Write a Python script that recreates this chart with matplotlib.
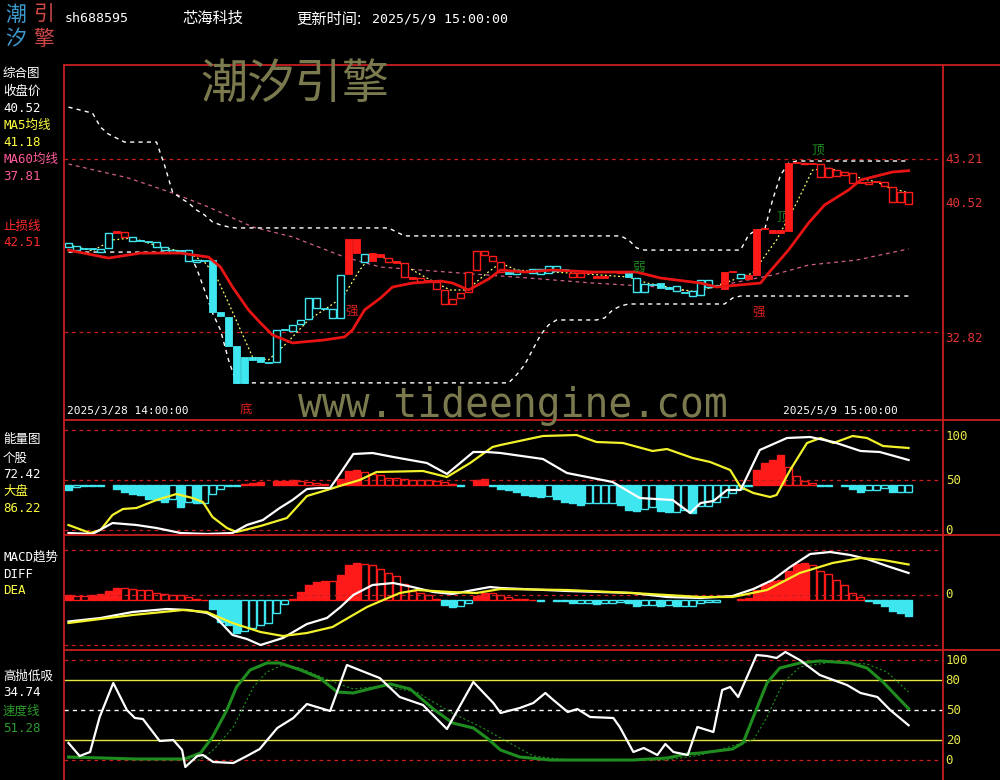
import numpy as np
import matplotlib
matplotlib.use('Agg')
import matplotlib.pyplot as plt
from matplotlib.lines import Line2D

plt.rcParams['font.family'] = ['DejaVu Sans Mono', 'Noto Sans CJK SC']

W, H = 1000, 780

# ---------------- data (hourly bars, 2025/3/28 14:00 -> 2025/5/9 15:00) ----------------
opens = [37.93, 37.74, 37.80, 37.80, 37.62, 37.86, 38.77, 38.83, 38.29, 38.29,
         38.23, 37.93, 37.74, 37.62, 37.68, 37.08, 37.02, 37.08, 37.14, 34.02,
         33.72, 31.98, 31.32, 31.32, 31.32, 31.02, 31.02, 32.94, 32.88, 33.30,
         33.60, 34.26, 34.20, 33.66, 33.66, 36.30, 37.56, 37.02, 37.08, 37.32,
         37.26, 36.99, 36.96, 36.03, 36.06, 35.85, 35.82, 35.34, 34.80, 35.16,
         36.42, 37.68, 37.68, 37.38, 37.02, 36.42, 36.30, 36.42, 36.36, 36.30,
         36.36, 36.48, 36.54, 36.36, 36.36, 36.36, 36.06, 36.06, 36.42, 36.36,
         36.36, 35.22, 35.22, 35.64, 35.76, 35.52, 35.28, 35.22, 34.98, 35.04,
         35.52, 35.58, 35.40, 36.42, 36.06, 36.00, 36.24, 39.01, 38.77, 38.77,
         38.89, 42.97, 42.97, 42.91, 42.91, 42.67, 42.55, 42.43, 42.37, 41.77,
         41.83, 41.83, 41.83, 41.53, 41.23, 41.23]
closes = [38.17, 37.99, 37.80, 37.80, 37.80, 38.77, 38.89, 38.53, 38.53, 38.29,
          38.23, 38.23, 37.93, 37.74, 37.68, 37.74, 37.14, 37.08, 34.02, 33.78,
          31.98, 29.76, 29.76, 31.14, 31.02, 30.96, 32.94, 32.94, 33.24, 33.54,
          34.86, 34.86, 34.20, 34.20, 36.24, 38.41, 38.41, 37.50, 37.56, 37.50,
          37.02, 36.99, 36.12, 36.03, 35.82, 35.85, 35.40, 34.50, 34.50, 34.86,
          35.22, 36.54, 37.44, 37.08, 36.42, 36.30, 36.54, 36.42, 36.60, 36.60,
          36.78, 36.78, 36.54, 36.12, 36.12, 36.48, 36.18, 36.18, 36.42, 36.36,
          36.12, 36.06, 35.70, 35.64, 35.46, 35.40, 35.58, 35.16, 35.28, 35.94,
          35.94, 35.58, 36.42, 36.42, 36.30, 36.24, 39.01, 39.01, 38.95, 38.95,
          42.97, 42.97, 42.91, 42.91, 42.13, 42.13, 42.19, 42.25, 41.77, 41.77,
          41.71, 41.83, 41.59, 40.63, 40.63, 40.52]
# 1 = strong (red) state, 0 = weak (cyan) state
trend = [0] * 6 + [1] * 2 + [0] * 27 + [1] * 2 + [0] + [1] * 17 + [0] * 8 + \
        [1] * 7 + [0] * 12 + [1] * 2 + [0] + [1] * 21

band_hi = [46.33, 46.21, 46.09, 45.97, 45.13, 44.71, 44.47] + [44.23] * 5 + \
          [42.85, 41.23, 40.87, 40.57, 40.15, 39.85, 39.43, 39.25, 39.13] + [39.07] * 20 + \
          [38.83] + [38.59] * 28 + [38.35, 37.87] + [37.74] * 13 + \
          [38.65, 38.95, 38.95, 40.75, 42.25, 42.97] + [43.09] * 15
band_lo = [37.62] * 16 + [36.66, 35.34, 33.96, 32.94, 31.14] + [29.76] * 35 + \
          [30.24, 30.84, 31.74, 32.64, 33.24] + [33.54] * 6 + [33.66, 34.14, 34.38] + \
          [34.50] * 13 + [34.86] + [34.98] * 22

ma5_x = [0, 3, 5.5, 8, 11.5, 15, 17, 18.5, 20, 21.5, 23, 25, 27.3, 30, 32.3, 34.3, 36.4,
         38, 41.4, 44.8, 47.7, 49.8, 52.3, 54, 56, 60, 63, 66.5, 70, 72.3, 75.5, 78.5, 82,
         85.5, 88.5, 91, 93, 95, 98.5, 101, 102.7, 105]
ma5 = [38.05, 37.69, 38.35, 38.47, 37.93, 37.57, 37.02, 36.12, 34.56, 32.94, 31.32, 31.14,
       32.16, 33.54, 34.26, 34.92, 36.54, 37.51, 36.96, 36.06, 35.34, 35.34, 36.36, 36.96,
       36.54, 36.42, 36.36, 36.24, 36.12, 35.76, 35.46, 35.22, 35.76, 36.36, 38.35, 40.57,
       42.55, 42.67, 42.13, 41.83, 41.47, 41.18]
ma60_x = [0, 7.5, 13, 17.5, 23, 28, 34.5, 39, 49, 57.5, 65.5, 74, 78, 83, 88, 92.5, 98.5, 105]
ma60 = [42.91, 42.07, 41.17, 40.33, 39.13, 38.53, 37.32, 36.72, 36.36, 36.06, 35.76, 35.52,
        35.22, 35.76, 36.24, 36.84, 37.14, 37.81]
stop_x = [0, 5, 9, 14, 17.5, 19, 20.5, 22.5, 24, 25.5, 28, 32, 34.5, 35.5, 37, 39, 40.5, 43,
          46.5, 48, 50, 52.5, 54, 57, 60.5, 65.5, 71, 74, 79, 81, 86.5, 87.5, 90, 92.5, 94.5,
          97.5, 99, 101.5, 103, 105]
stop = [37.74, 37.26, 37.56, 37.56, 37.32, 36.72, 35.52, 34.14, 33.36, 32.64, 32.16, 32.34,
        32.52, 32.94, 34.14, 34.86, 35.52, 35.76, 35.88, 35.76, 35.34, 36.00, 36.54, 36.42,
        36.54, 36.42, 36.42, 36.06, 35.76, 35.52, 35.76, 36.36, 37.75, 39.37, 40.45, 41.35,
        41.95, 42.25, 42.43, 42.51]

# energy panel (bars around 45)
energy = [40, 43, 44, 44, 44, 45, 41, 38, 36, 35, 31, 30, 28, 31, 23, 28, 27, 27, 36, 41,
          44, 44, 46, 47, 48, 45, 49, 49.5, 50, 49, 48, 47, 46, 45, 51, 59, 60, 58, 56, 55,
          52, 52, 51, 50, 50, 50, 49, 48, 46, 44, 45, 50, 51, 44, 41, 40, 38, 35, 34, 33,
          34, 31, 28, 27.5, 25, 27, 27, 27, 27, 25, 20, 19, 21, 23, 19, 18, 18, 20, 17, 24,
          24, 28, 33, 37, 41, 44, 60, 67, 70, 75, 63, 54, 49, 47, 44, 44, 45, 44, 41, 38,
          40, 40, 42, 38, 38, 38]
stock_x = [0, 3, 5.5, 8.5, 11, 14, 17.3, 20.5, 22.3, 24.3, 26.4, 28, 29.8, 31.4, 32.7, 34,
           35.6, 38, 40.6, 44.8, 47.3, 50.6, 52.3, 54, 59.3, 62.3, 68, 71.4, 75.5, 77.7, 79,
           80.6, 82.3, 84, 86.4, 89.8, 92.7, 95.6, 99, 101.4, 105]
stock = [-3, -4, 7, 5, 2, -3, -4, -3, 5, 10, 22, 30, 41, 42, 42, 57, 76, 77, 73, 67, 56, 78,
         78, 77, 71, 57, 48, 32, 30, 17, 27, 29, 40, 40, 80, 92, 93, 88, 79, 78, 70]
market_x = [0, 2.7, 4, 5.5, 6.8, 8.5, 11, 13.5, 15.5, 16.8, 18, 19.8, 21, 24, 27.3, 29.8,
            32.3, 34.3, 36.4, 38.5, 44.3, 47.3, 50.2, 53, 54, 59.3, 63.5, 66, 69.3, 73, 74.8,
            78, 80.2, 82.7, 84, 85.6, 87.7, 88.5, 90.2, 92.3, 94, 95.6, 98, 99.8, 101.8, 105]
market = [5, -3, 0, 15, 21, 22, 30, 36, 32, 28, 13, 2, -2, 4, 12, 34, 40, 45, 50, 58, 59, 53,
          67, 83, 85, 94, 95, 88, 87, 79, 81, 72, 68, 60, 43, 37, 33, 35, 60, 87, 92, 87, 94,
          92, 84, 82]

# MACD
macd_hist = [0.10, 0.08, 0.08, 0.10, 0.12, 0.19, 0.25, 0.25, 0.22, 0.20, 0.20, 0.15, 0.12,
             0.10, 0.10, 0.07, 0.03, 0.01, -0.17, -0.43, -0.50, -0.65, -0.61, -0.55, -0.50,
             -0.45, -0.25, -0.08, 0.03, 0.17, 0.31, 0.37, 0.39, 0.39, 0.50, 0.70, 0.75, 0.72,
             0.70, 0.63, 0.55, 0.48, 0.33, 0.19, 0.15, 0.10, 0.03, -0.10, -0.13, -0.12, -0.05,
             0.08, 0.14, 0.14, 0.10, 0.07, 0.03, 0.02, 0.01, -0.02, 0.0, -0.02, -0.02, -0.05,
             -0.05, -0.05, -0.07, -0.05, -0.05, -0.03, -0.05, -0.11, -0.10, -0.09, -0.11, -0.09,
             -0.11, -0.11, -0.11, -0.05, -0.03, -0.03, 0.0, 0.0, 0.03, 0.05, 0.21, 0.33, 0.39,
             0.40, 0.59, 0.72, 0.75, 0.70, 0.59, 0.52, 0.40, 0.30, 0.15, 0.07, -0.01, -0.05,
             -0.11, -0.22, -0.25, -0.32]
diff_x = [0, 4, 8, 12.3, 15, 17.3, 18.5, 20.5, 22.3, 24, 26.8, 29.8, 32.3, 34, 35.6, 38, 40.6,
          43, 45.6, 48, 50.6, 52.7, 54, 62.3, 70.5, 74.8, 79, 83, 85.6, 88, 90.2, 92.7, 95.2,
          97.7, 99.8, 102.3, 105]
diff = [-0.53, -0.46, -0.34, -0.28, -0.30, -0.36, -0.46, -0.80, -0.88, -1.0, -0.86, -0.58,
        -0.46, -0.24, 0.0, 0.20, 0.24, 0.16, 0.06, 0.02, 0.10, 0.16, 0.14, 0.08, 0.04, -0.04,
        -0.06, -0.02, 0.12, 0.30, 0.56, 0.82, 0.86, 0.80, 0.72, 0.58, 0.44]
dea_x = [0, 8, 14.3, 17.3, 20.5, 24, 26.8, 29.8, 33, 37.3, 41.4, 43.6, 47.7, 51, 54, 62.3,
         70.5, 79, 83, 87.3, 91.4, 95.5, 99, 101.8, 105]
dea = [-0.56, -0.40, -0.30, -0.34, -0.56, -0.74, -0.82, -0.76, -0.64, -0.24, 0.04, 0.10,
       0.06, 0.04, 0.12, 0.10, 0.04, -0.04, -0.04, 0.10, 0.44, 0.64, 0.74, 0.70, 0.61]

# 高抛低吸 / 速度线
hl_x = [0, 1.4, 2.7, 3.9, 5.6, 7.3, 8.3, 9.3, 11.4, 13.1, 14.2, 14.6, 16.1, 16.8, 18.1, 20.6,
        22.3, 23.9, 26.1, 28.1, 29.8, 32.7, 34.8, 37.3, 38.9, 41.4, 44.3, 47.3, 50.6, 53.1, 54,
        56.4, 58.1, 59.6, 60.6, 62.4, 63.6, 65.2, 68.1, 68.9, 70.6, 71.9, 73.6, 74.6, 75.6,
        77.4, 78.6, 80.6, 81.7, 82.7, 83.7, 84.8, 86, 87.3, 88.5, 89.6, 91.4, 93.9, 97.3, 99,
        101.1, 102.7, 105]
hl = [17, 4, 8, 43, 77, 50, 42, 41, 19, 20, 10, -7, 4, 5, -2, -3, 4, 11, 32, 42, 56, 49, 95,
      87, 82, 63, 55, 31, 78, 57, 47, 52, 57, 67, 60, 48, 51, 43, 42, 33, 8, 12, 5, 16, 8, 5,
      33, 28, 70, 73, 63, 83, 105, 104, 102, 108, 100, 85, 75, 67, 63, 50, 34.74]
spd_x = [0, 8.5, 14.5, 16.5, 18, 19.8, 21, 22.7, 24.8, 26.4, 29, 31.4, 33.6, 35.6, 38.1, 40.2,
         42.7, 45.6, 48, 50.6, 52.3, 54, 56.4, 60.2, 70.5, 74.8, 77.3, 79, 83, 84.3, 85.6,
         87.3, 88.9, 91.4, 93.9, 97.7, 99.8, 101.8, 105]
spd = [3, 1, 1, 7, 23, 50, 73, 90, 97, 97, 90, 82, 68, 67, 72, 76, 71, 51, 37, 32, 22, 10, 3,
       0, 0, 2, 6, 7, 11, 17, 43, 77, 92, 97, 99, 97, 92, 78, 51.28]
spd2_x = [0, 16.4, 18.1, 20.6, 23.1, 24.8, 26.8, 28.9, 33.1, 35.6, 39.3, 43.5, 47.7, 51.8, 54,
          58.1, 62.3, 74.8, 79, 85.6, 87.3, 89.3, 91.4, 95.5, 99.8, 102.3, 105]
spd2 = [2, 0, 10, 33, 73, 88, 95, 92, 78, 71, 74, 68, 48, 32, 22, 4, 0, 0, 5, 20, 43, 77, 93,
        98, 96, 88, 68]

# ---------------- style ----------------
FRAME = '#c81e1e'
RED = '#ff1a1a'
CYAN = '#3ee6f0'
YEL = '#f2f22a'
AXYEL = '#e8e84a'
GREEN = '#1f8c1f'
OLIVE = '#7b7a4e'
DASH = (0, (3, 3))

fig = plt.figure(figsize=(W / 100, H / 100), dpi=100, facecolor='black')


def panel(top, bottom, ylim):
    ax = fig.add_axes([64 / W, 1 - bottom / H, (943 - 64) / W, (bottom - top) / H])
    ax.set_xlim(-0.56, 109.3)
    ax.set_ylim(*ylim)
    ax.axis('off')
    return ax


def fline(x0, y0, x1, y1, **kw):
    fig.add_artist(Line2D([x0 / W, x1 / W], [1 - y0 / H, 1 - y1 / H],
                          transform=fig.transFigure, **kw))


def ftext(x, y, s, **kw):
    fig.text(x / W, 1 - y / H, s, va='center', **kw)


def rlabel(ax, v, s, color, va='center'):
    ax.text(1.003, v, s, transform=ax.get_yaxis_transform(), color=color,
            fontsize=9, va=va, ha='left', clip_on=False)


def hist(ax, vals, base, up_col, dn_col):
    prev = 0.0
    for i, v in enumerate(vals):
        h = v - base
        if h == 0:
            prev = 0.0
            continue
        col = up_col if h > 0 else dn_col
        solid = abs(h) > abs(prev)
        ax.bar(i, h, bottom=base, width=0.78,
               facecolor=col if solid else 'black', edgecolor=col, linewidth=1.0)
        prev = h


n = np.arange(len(opens))

# ---- main panel ----
ax1 = panel(65, 420, (27.53, 48.86))
ax1.axhline(43.21, color=FRAME, lw=0.9, ls=DASH)
ax1.axhline(32.82, color=FRAME, lw=0.9, ls=DASH)
ax1.plot(ma60_x, ma60, color='#d0608c', lw=0.9, ls=DASH)
ax1.plot(n, band_hi, color='white', lw=1.0, ls=DASH)
ax1.plot(n, band_lo, color='white', lw=1.0, ls=DASH)
ax1.plot(ma5_x, ma5, color='#ffff70', lw=0.9, ls=(0, (1.5, 2)))
ax1.text(89.3, 39.73, '顶', color=GREEN, fontsize=9, ha='center', va='center', zorder=1)

o = np.array(opens)
c = np.array(closes)
t = np.array(trend)
up = c > o
cols = np.where(t == 1, RED, CYAN)
solid = (up & (t == 1)) | (~up & (t == 0)) | (c == o)
low = np.minimum(o, c)
hgt = np.maximum(np.abs(c - o), 0.07)
ax1.bar(n[solid], hgt[solid], bottom=low[solid], width=0.8, color=cols[solid],
        edgecolor=cols[solid], linewidth=0.6, zorder=3)
ax1.bar(n[~solid], hgt[~solid], bottom=low[~solid], width=0.8, facecolor='black',
        edgecolor=cols[~solid], linewidth=1.0, zorder=3)
ax1.plot(stop_x, stop, color='#e81414', lw=2.0, zorder=4)

ax1.text(93.6, 43.75, '顶', color=GREEN, fontsize=9, ha='center', va='center')
ax1.text(71.3, 36.72, '弱', color=GREEN, fontsize=9, ha='center', va='center', zorder=5)
ax1.text(35.4, 34.08, '强', color='#e02020', fontsize=9, ha='center', va='center')
ax1.text(86.3, 34.0, '强', color='#e02020', fontsize=9, ha='center', va='center')
ax1.text(22.2, 28.2, '底', color='#e02020', fontsize=9, ha='center', va='center')
ax1.text(-0.2, 0.025, '2025/3/28 14:00:00', transform=ax1.get_xaxis_transform(),
         color='white', fontsize=8, va='center', ha='left')
ax1.text(103.6, 0.025, '2025/5/9 15:00:00', transform=ax1.get_xaxis_transform(),
         color='white', fontsize=8, va='center', ha='right')
rlabel(ax1, 43.21, '43.21', '#e03434')
rlabel(ax1, closes[-1], '%.2f' % closes[-1], '#e03434')
rlabel(ax1, 32.82, '32.82', '#e03434', va='top')

# ---- energy panel ----
ax2 = panel(421, 535, (-5, 109))
for v in (100, 50, 0):
    ax2.axhline(v, color=FRAME, lw=0.9, ls=DASH)
hist(ax2, energy, 45, RED, CYAN)
ax2.plot(market_x, market, color=YEL, lw=1.6)
ax2.plot(stock_x, stock, color='white', lw=1.6)
rlabel(ax2, 100, '100', AXYEL, va='top')
rlabel(ax2, 50, '50', AXYEL)
rlabel(ax2, 0, '0', AXYEL)

# ---- MACD panel ----
ax3 = panel(536, 650, (-1.1, 1.18))
for v in (0.9, 0, -1.0):
    ax3.axhline(v, color=FRAME, lw=0.9, ls=DASH)
hist(ax3, [h - 0.1 for h in macd_hist], -0.1, RED, CYAN)
ax3.plot(diff_x, diff, color='white', lw=1.6)
ax3.plot(dea_x, dea, color=YEL, lw=1.6)
rlabel(ax3, 0, '0', AXYEL)

# ---- high/low panel ----
ax4 = panel(651, 780, (-20, 109))
ax4.axhline(100, color=FRAME, lw=0.9, ls=DASH)
ax4.axhline(0, color=FRAME, lw=0.9, ls=DASH)
ax4.axhline(80, color='#e6e640', lw=1.0)
ax4.axhline(20, color='#e6e640', lw=1.0)
ax4.axhline(50, color='white', lw=1.0, ls=DASH)
ax4.plot(spd2_x, spd2, color=GREEN, lw=0.8, ls=(0, (2, 2)))
ax4.plot(spd_x, spd, color=GREEN, lw=2.2)
ax4.plot(hl_x, hl, color='white', lw=1.6)
for v in (100, 80, 50, 20, 0):
    rlabel(ax4, v, str(v), AXYEL)

# ---- frame ----
for y in (65, 420, 535, 650):
    fline(64, y, 1000, y, color=FRAME, lw=1.3)
fline(64, 65, 64, 780, color=FRAME, lw=1.3)
fline(943, 65, 943, 780, color=FRAME, lw=1.3)

# ---- header / watermark ----
cjk = 'Noto Sans CJK SC'
ftext(5, 15, '潮', color='#3d9bd0', fontsize=15, family=cjk)
ftext(33, 15, '引', color='#d04848', fontsize=15, family=cjk)
ftext(5, 39, '汐', color='#3d9bd0', fontsize=15, family=cjk)
ftext(33, 39, '擎', color='#d04848', fontsize=15, family=cjk)
ftext(65, 18, 'sh688595', color='white', fontsize=9.5)
ftext(182, 18, '芯海科技', color='white', fontsize=11, family=cjk)
ftext(296, 19, '更新时间:', color='white', fontsize=11, family=cjk)
ftext(372, 19, '2025/5/9 15:00:00', color='white', fontsize=9.5)
ftext(200, 85, '潮汐引擎', color=OLIVE, fontsize=34, family=cjk)
ftext(298, 406, 'www.tideengine.com', color=OLIVE, fontsize=28.5)

left_labels = [
    ('综合图', 'white', 73), ('收盘价', 'white', 91), ('40.52', 'white', 108),
    ('MA5均线', '#ffff40', 125), ('41.18', '#ffff40', 142),
    ('MA60均线', '#ff5a9a', 159), ('37.81', '#ff5a9a', 176),
    ('止损线', '#ff2a2a', 226), ('42.51', '#ff2a2a', 243),
    ('能量图', 'white', 440), ('个股', 'white', 458), ('72.42', 'white', 475),
    ('大盘', '#ffff40', 492), ('86.22', '#ffff40', 509),
    ('MACD趋势', 'white', 557), ('DIFF', 'white', 574), ('DEA', '#ffff40', 591),
    ('高抛低吸', 'white', 676), ('34.74', 'white', 693),
    ('速度线', '#2a9a2a', 711), ('51.28', '#2a9a2a', 728),
]
for s, col, y in left_labels:
    ftext(3, y, s, color=col, fontsize=9)

fig.savefig('out.png', dpi=100, facecolor='black')
